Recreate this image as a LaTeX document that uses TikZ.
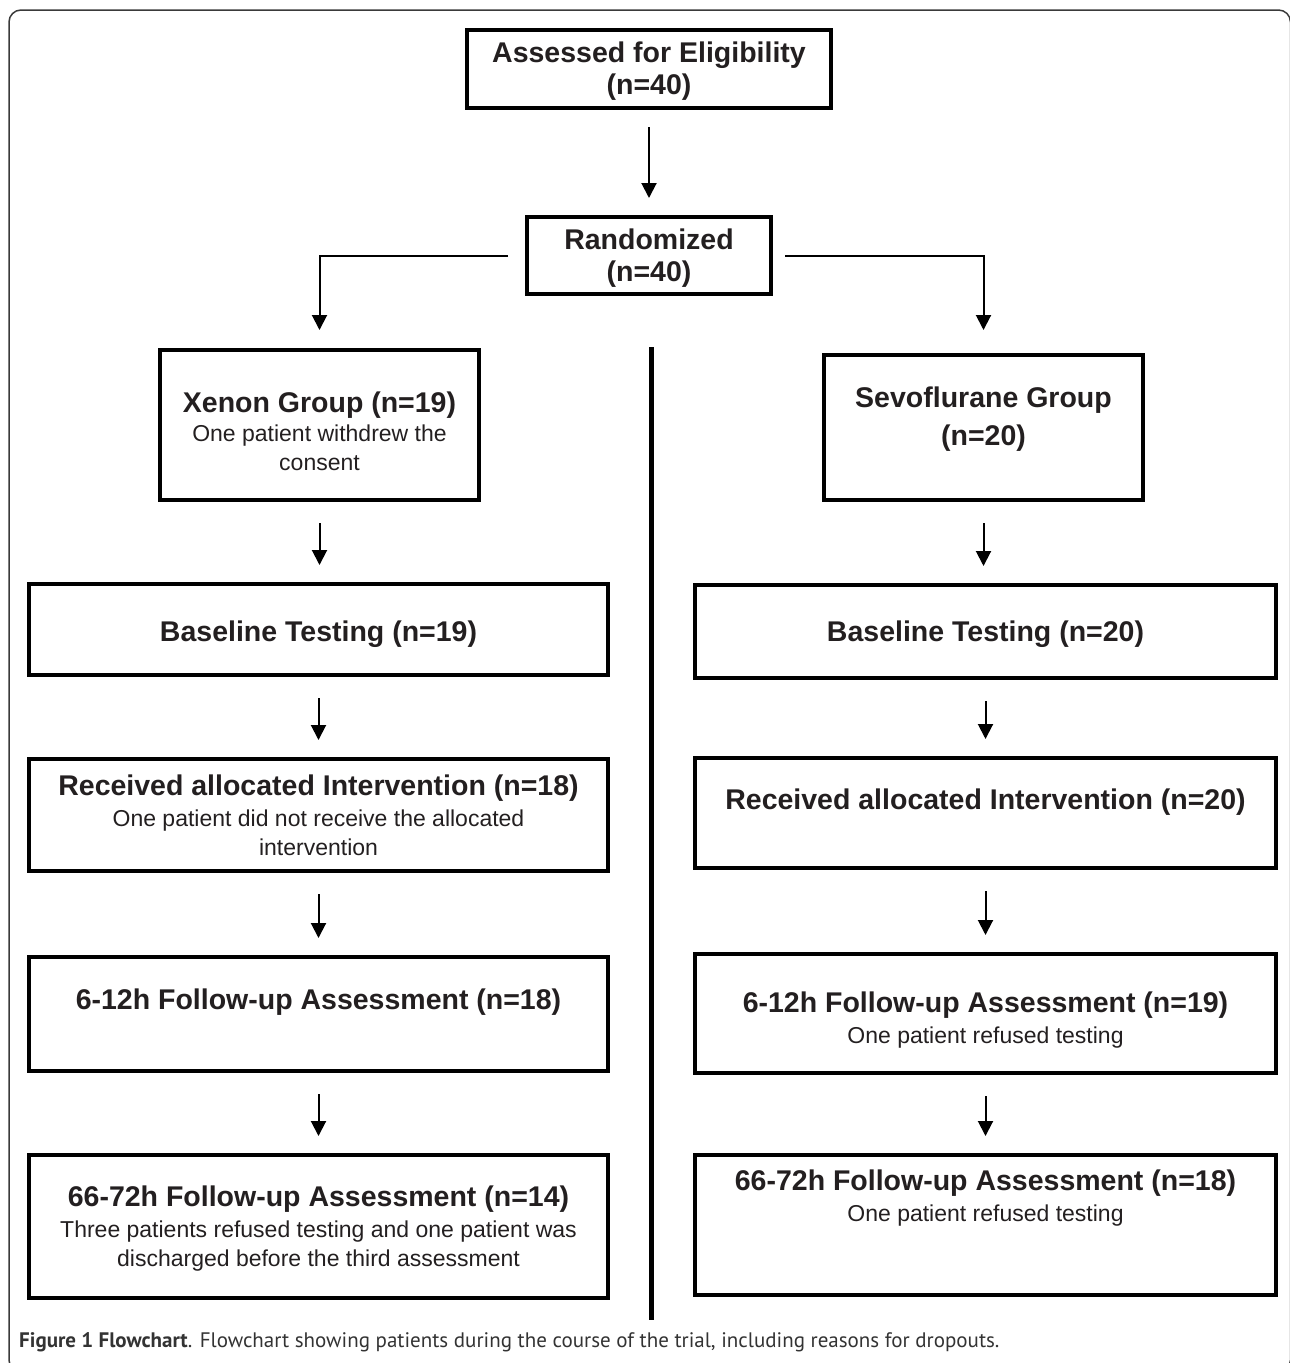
\documentclass[tikz,border=0pt]{standalone}
\usepackage{fontspec}
\setmainfont{Liberation Sans}
\newfontfamily\capfont{PT Sans}
\usetikzlibrary{arrows.meta}
\definecolor{ink}{HTML}{231F20}
\definecolor{framec}{HTML}{3A3A3A}
\definecolor{capc}{HTML}{333333}
\newcommand\boldline[1]{{\bfseries\fontsize{28.5}{29}\selectfont #1}}
\tikzset{
  box/.style={draw=black, line width=4pt, inner sep=0pt, rectangle},
  txt/.style={inner sep=0pt, align=center, anchor=north, text=ink, font=\fontsize{23}{29}\selectfont},
  arr/.style={draw=black, line width=2pt, -{Triangle[width=15pt,length=15pt]}},
  vflow/.style={arr, shorten <=21pt, shorten >=17pt},
}
\begin{document}
\begin{tikzpicture}[x=1pt,y=-1pt]
\useasboundingbox (0,0) rectangle (1290,1363);
\clip (0,0) rectangle (1290,1363);
\draw[framec, line width=1.5pt, rounded corners=12pt] (9,10) rectangle (1290.5,1372);

% boxes
\node[box, minimum width=364pt, minimum height=78pt] (A) at (649,69) {};
\node[box, minimum width=244pt, minimum height=77pt] (R) at (649,255.5) {};
\node[box, minimum width=319pt, minimum height=150pt] (X) at (319.5,425) {};
\node[box, minimum width=319pt, minimum height=145pt] (S) at (983.5,427.5) {};
\node[box, minimum width=579pt, minimum height=91pt] (BL) at (318.5,629.5) {};
\node[box, minimum width=581pt, minimum height=93pt] (BR) at (985.5,631.5) {};
\node[box, minimum width=579pt, minimum height=112pt] (RL) at (318.5,815) {};
\node[box, minimum width=581pt, minimum height=110pt] (RR) at (985.5,813) {};
\node[box, minimum width=579pt, minimum height=114pt] (FL) at (318.5,1014) {};
\node[box, minimum width=581pt, minimum height=119pt] (FR) at (985.5,1013.5) {};
\node[box, minimum width=579pt, minimum height=143pt] (GL) at (318.5,1226.5) {};
\node[box, minimum width=581pt, minimum height=140pt] (GR) at (985.5,1225) {};

% texts
\node[txt] (tA) at (649,42) {\boldline{Assessed for Eligibility}\\[3pt]\boldline{(n=40)}};
\node[txt] (tR) at (649,229) {\boldline{Randomized}\\[3pt]\boldline{(n=40)}};
\node[txt] (tX) at (319.5,392) {\boldline{Xenon Group (n=19)}\\One patient withdrew the\\consent};
\node[txt] (tS) at (983.5,387) {\boldline{Sevoflurane Group}\\[9pt]\boldline{(n=20)}};
\node[txt] (tBL) at (318.5,621) {\boldline{Baseline Testing (n=19)}};
\node[txt] (tBR) at (985.5,621) {\boldline{Baseline Testing (n=20)}};
\node[txt] (tRL) at (318.5,775) {\boldline{Received allocated Intervention (n=18)}\\[2pt]One patient did not receive the allocated\\intervention};
\node[txt] (tRR) at (985.5,789) {\boldline{Received allocated Intervention (n=20)}};
\node[txt] (tFL) at (318.5,989) {\boldline{6-12h Follow-up Assessment (n=18)}};
\node[txt] (tFR) at (985.5,992) {\boldline{6-12h Follow-up Assessment (n=19)}\\[2pt]One patient refused testing};
\node[txt] (tGL) at (318.5,1186) {\boldline{66-72h Follow-up Assessment (n=14)}\\[2pt]Three patients refused testing and one patient was\\discharged before the third assessment};
\node[txt] (tGR) at (985.5,1170) {\boldline{66-72h Follow-up Assessment (n=18)}\\[2pt]One patient refused testing};

% connectors
\draw[arr, shorten <=17pt, shorten >=17pt] (A.south) -- (R.north);
\draw[arr, shorten >=18pt] ([xshift=-17pt]R.west) -| (X.north);
\draw[arr, shorten >=23pt] ([xshift=12pt]R.east) -| (S.north);
\draw[vflow] (X.south) -- (X.south |- BL.north);
\draw[vflow] (BL.south) -- (RL.north);
\draw[vflow] (RL.south) -- (FL.north);
\draw[vflow] (FL.south) -- (GL.north);
\draw[vflow] (S.south) -- (S.south |- BR.north);
\draw[vflow] (BR.south) -- (RR.north);
\draw[vflow] (RR.south) -- (FR.north);
\draw[vflow] (FR.south) -- (GR.north);

% separator
\coordinate (sepT) at (651,347);
\coordinate (sepB) at (651,1320);
\draw[line width=5pt] (sepT) -- (sepB);

% caption
\node[anchor=base west, inner sep=0pt, text=capc, font=\capfont\fontsize{21}{25}\selectfont] (cap) at (19,1347) {\textbf{Figure 1 Flowchart}. Flowchart showing patients during the course of the trial, including reasons for dropouts.};
\end{tikzpicture}
\end{document}
